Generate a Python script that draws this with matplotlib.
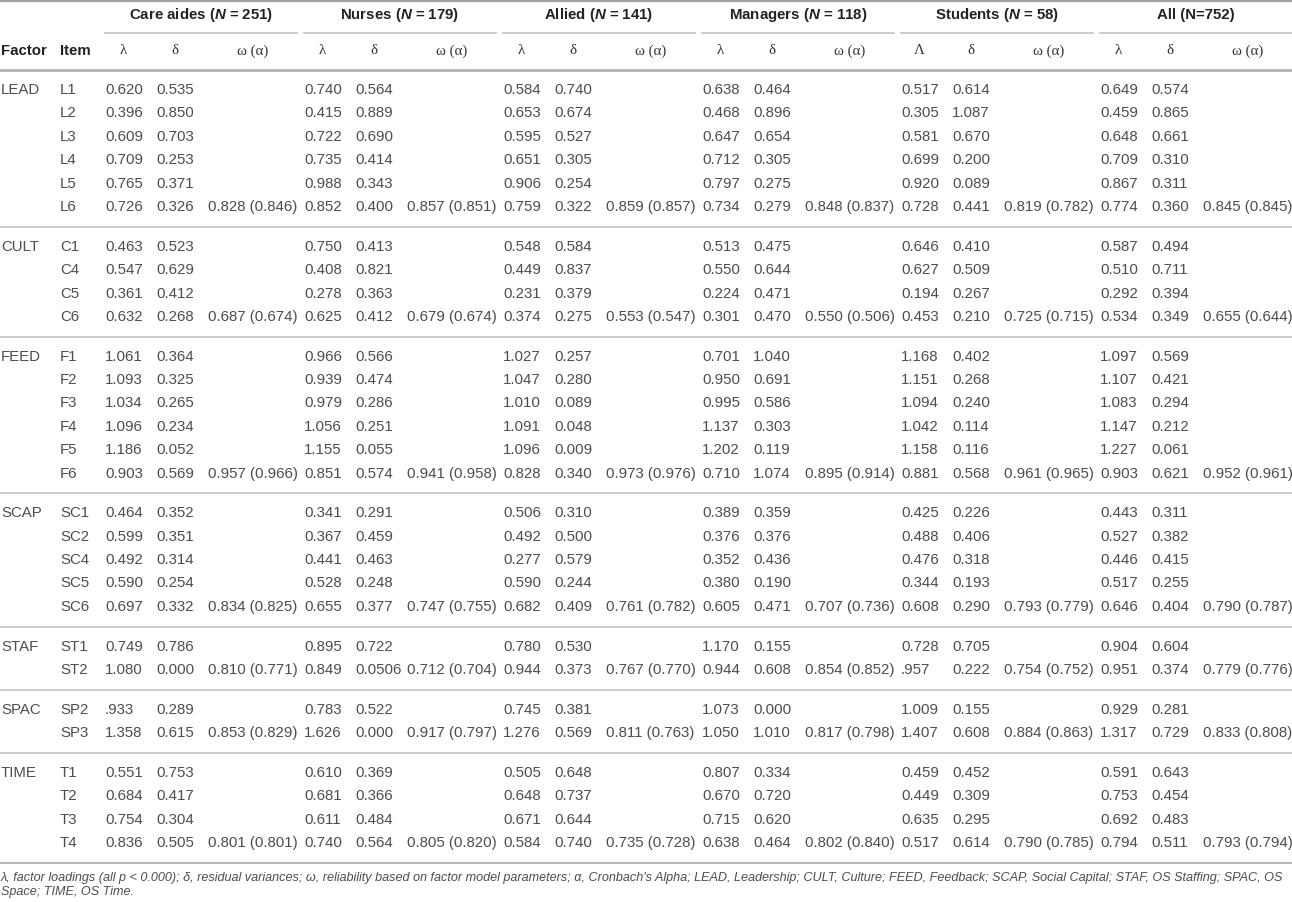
import matplotlib
matplotlib.use("Agg")
import matplotlib.pyplot as plt

plt.rcParams['font.family'] = ['Liberation Sans', 'DejaVu Sans']
plt.rcParams['mathtext.fontset'] = 'custom'
plt.rcParams['mathtext.rm'] = 'Liberation Sans:bold'
plt.rcParams['mathtext.it'] = 'Liberation Sans:italic:bold'

# ---- data ----
factors = ["LEAD", "CULT", "FEED", "SCAP", "STAF", "SPAC", "TIME"]
items = [["L1", "L2", "L3", "L4", "L5", "L6"],
         ["C1", "C4", "C5", "C6"],
         ["F1", "F2", "F3", "F4", "F5", "F6"],
         ["SC1", "SC2", "SC4", "SC5", "SC6"],
         ["ST1", "ST2"],
         ["SP2", "SP3"],
         ["T1", "T2", "T3", "T4"]]

groups = [r"Care aides ($N$ = 251)", r"Nurses ($N$ = 179)", r"Allied ($N$ = 141)",
          r"Managers ($N$ = 118)", r"Students ($N$ = 58)", "All (N=752)"]
lam_heads = ["λ", "λ", "λ", "λ", "Λ", "λ"]

care_lam = ["0.620", "0.396", "0.609", "0.709", "0.765", "0.726", "0.463", "0.547", "0.361", "0.632",
            "1.061", "1.093", "1.034", "1.096", "1.186", "0.903", "0.464", "0.599", "0.492", "0.590", "0.697",
            "0.749", "1.080", ".933", "1.358", "0.551", "0.684", "0.754", "0.836"]
care_del = ["0.535", "0.850", "0.703", "0.253", "0.371", "0.326", "0.523", "0.629", "0.412", "0.268",
            "0.364", "0.325", "0.265", "0.234", "0.052", "0.569", "0.352", "0.351", "0.314", "0.254", "0.332",
            "0.786", "0.000", "0.289", "0.615", "0.753", "0.417", "0.304", "0.505"]
care_omg = ["0.828 (0.846)", "0.687 (0.674)", "0.957 (0.966)", "0.834 (0.825)", "0.810 (0.771)",
            "0.853 (0.829)", "0.801 (0.801)"]

nurs_lam = ["0.740", "0.415", "0.722", "0.735", "0.988", "0.852", "0.750", "0.408", "0.278", "0.625",
            "0.966", "0.939", "0.979", "1.056", "1.155", "0.851", "0.341", "0.367", "0.441", "0.528", "0.655",
            "0.895", "0.849", "0.783", "1.626", "0.610", "0.681", "0.611", "0.740"]
nurs_del = ["0.564", "0.889", "0.690", "0.414", "0.343", "0.400", "0.413", "0.821", "0.363", "0.412",
            "0.566", "0.474", "0.286", "0.251", "0.055", "0.574", "0.291", "0.459", "0.463", "0.248", "0.377",
            "0.722", "0.0506", "0.522", "0.000", "0.369", "0.366", "0.484", "0.564"]
nurs_omg = ["0.857 (0.851)", "0.679 (0.674)", "0.941 (0.958)", "0.747 (0.755)", "0.712 (0.704)",
            "0.917 (0.797)", "0.805 (0.820)"]

alli_lam = ["0.584", "0.653", "0.595", "0.651", "0.906", "0.759", "0.548", "0.449", "0.231", "0.374",
            "1.027", "1.047", "1.010", "1.091", "1.096", "0.828", "0.506", "0.492", "0.277", "0.590", "0.682",
            "0.780", "0.944", "0.745", "1.276", "0.505", "0.648", "0.671", "0.584"]
alli_del = ["0.740", "0.674", "0.527", "0.305", "0.254", "0.322", "0.584", "0.837", "0.379", "0.275",
            "0.257", "0.280", "0.089", "0.048", "0.009", "0.340", "0.310", "0.500", "0.579", "0.244", "0.409",
            "0.530", "0.373", "0.381", "0.569", "0.648", "0.737", "0.644", "0.740"]
alli_omg = ["0.859 (0.857)", "0.553 (0.547)", "0.973 (0.976)", "0.761 (0.782)", "0.767 (0.770)",
            "0.811 (0.763)", "0.735 (0.728)"]

mana_lam = ["0.638", "0.468", "0.647", "0.712", "0.797", "0.734", "0.513", "0.550", "0.224", "0.301",
            "0.701", "0.950", "0.995", "1.137", "1.202", "0.710", "0.389", "0.376", "0.352", "0.380", "0.605",
            "1.170", "0.944", "1.073", "1.050", "0.807", "0.670", "0.715", "0.638"]
mana_del = ["0.464", "0.896", "0.654", "0.305", "0.275", "0.279", "0.475", "0.644", "0.471", "0.470",
            "1.040", "0.691", "0.586", "0.303", "0.119", "1.074", "0.359", "0.376", "0.436", "0.190", "0.471",
            "0.155", "0.608", "0.000", "1.010", "0.334", "0.720", "0.620", "0.464"]
mana_omg = ["0.848 (0.837)", "0.550 (0.506)", "0.895 (0.914)", "0.707 (0.736)", "0.854 (0.852)",
            "0.817 (0.798)", "0.802 (0.840)"]

stud_lam = ["0.517", "0.305", "0.581", "0.699", "0.920", "0.728", "0.646", "0.627", "0.194", "0.453",
            "1.168", "1.151", "1.094", "1.042", "1.158", "0.881", "0.425", "0.488", "0.476", "0.344", "0.608",
            "0.728", ".957", "1.009", "1.407", "0.459", "0.449", "0.635", "0.517"]
stud_del = ["0.614", "1.087", "0.670", "0.200", "0.089", "0.441", "0.410", "0.509", "0.267", "0.210",
            "0.402", "0.268", "0.240", "0.114", "0.116", "0.568", "0.226", "0.406", "0.318", "0.193", "0.290",
            "0.705", "0.222", "0.155", "0.608", "0.452", "0.309", "0.295", "0.614"]
stud_omg = ["0.819 (0.782)", "0.725 (0.715)", "0.961 (0.965)", "0.793 (0.779)", "0.754 (0.752)",
            "0.884 (0.863)", "0.790 (0.785)"]

all_lam = ["0.649", "0.459", "0.648", "0.709", "0.867", "0.774", "0.587", "0.510", "0.292", "0.534",
           "1.097", "1.107", "1.083", "1.147", "1.227", "0.903", "0.443", "0.527", "0.446", "0.517", "0.646",
           "0.904", "0.951", "0.929", "1.317", "0.591", "0.753", "0.692", "0.794"]
all_del = ["0.574", "0.865", "0.661", "0.310", "0.311", "0.360", "0.494", "0.711", "0.394", "0.349",
           "0.569", "0.421", "0.294", "0.212", "0.061", "0.621", "0.311", "0.382", "0.415", "0.255", "0.404",
           "0.604", "0.374", "0.281", "0.729", "0.643", "0.454", "0.483", "0.511"]
all_omg = ["0.845 (0.845)", "0.655 (0.644)", "0.952 (0.961)", "0.790 (0.787)", "0.779 (0.776)",
           "0.833 (0.808)", "0.793 (0.794)"]

lam_cols = [care_lam, nurs_lam, alli_lam, mana_lam, stud_lam, all_lam]
del_cols = [care_del, nurs_del, alli_del, mana_del, stud_del, all_del]
omg_cols = [care_omg, nurs_omg, alli_omg, mana_omg, stud_omg, all_omg]

note1 = ("λ, factor loadings (all p < 0.000); δ, residual variances; ω, reliability based on factor model "
         "parameters; α, Cronbach's Alpha; LEAD, Leadership; CULT, Culture; FEED, Feedback; SCAP, Social "
         "Capital; STAF, OS Staffing; SPAC, OS")
note2 = "Space; TIME, OS Time."

# ---- layout (pixel coords) ----
W, H = 1292, 902
fig = plt.figure(figsize=(W / 100, H / 100), dpi=100)
ax = fig.add_axes([0, 0, 1, 1])
ax.set_xlim(0, W)
ax.set_ylim(H, 0)
ax.axis('off')

fs_body = 10.8
body = dict(fontsize=fs_body, color='#4d4d4d', va='center')
head = dict(fontsize=fs_body, color='#222222', va='center', fontweight='bold')
greek = dict(fontsize=fs_body, color='#333333', va='center', ha='center',
             family=['Liberation Serif', 'DejaVu Serif'])

x_factor, x_item = 1, 60
x0, gstep = 105, 199
d_off, o_off = 51, 103
col_w = 37
omg_w = 89

row_step, gap = 23.4, 16.3
y_first = 90
line_c = '#c2c2c2'

# header
ax.plot([0, W], [1, 1], color='#a0a0a0', lw=1.6)
for g in range(6):
    gx = x0 + g * gstep
    ax.text(gx + (o_off + omg_w) / 2, 15, groups[g], ha='center', **head)
    ax.plot([gx, gx + o_off + omg_w], [33, 33], color=line_c, lw=1.2)
    ax.text(gx + col_w / 2, 51, lam_heads[g], **greek)
    ax.text(gx + d_off + col_w / 2, 51, "δ", **greek)
    ax.text(gx + o_off + omg_w / 2, 51, "ω (α)", **greek)
ax.text(x_factor, 51, "Factor", ha='left', **head)
ax.text(x_item, 51, "Item", ha='left', **head)
ax.plot([0, W], [70, 70], color='#b0b0b0', lw=2.0)

# body
r = 0
y = y_first
last_y = y
for fi, fac in enumerate(factors):
    if fi > 0:
        y_sep = last_y + (row_step + gap) / 2
        ax.plot([0, W], [y_sep, y_sep], color=line_c, lw=1.2)
        y = last_y + row_step + gap
    for ii, it in enumerate(items[fi]):
        if ii == 0:
            ax.text(x_factor, y, fac, ha='left', **body)
        ax.text(x_item, y, it, ha='left', **body)
        for g in range(6):
            gx = x0 + g * gstep
            ax.text(gx, y, lam_cols[g][r], ha='left', **body)
            ax.text(gx + d_off, y, del_cols[g][r], ha='left', **body)
            if ii == len(items[fi]) - 1:
                ax.text(gx + o_off, y, omg_cols[g][fi], ha='left', **body)
        r += 1
        last_y = y
        y += row_step

y_rule = last_y + (row_step + gap) / 2
ax.plot([0, W], [y_rule, y_rule], color='#b8b8b8', lw=1.4)

# footnote, scaled to span the width
t1 = ax.text(1, y_rule + 15, note1, ha='left', va='center', fontsize=9, style='italic', color='#4d4d4d')
t2 = ax.text(1, y_rule + 29, note2, ha='left', va='center', fontsize=9, style='italic', color='#4d4d4d')
fig.canvas.draw()
wpx = t1.get_window_extent().width
fs = 9 * 1286 / wpx
t1.set_fontsize(fs)
t2.set_fontsize(fs)

fig.savefig("out.png", dpi=100)
